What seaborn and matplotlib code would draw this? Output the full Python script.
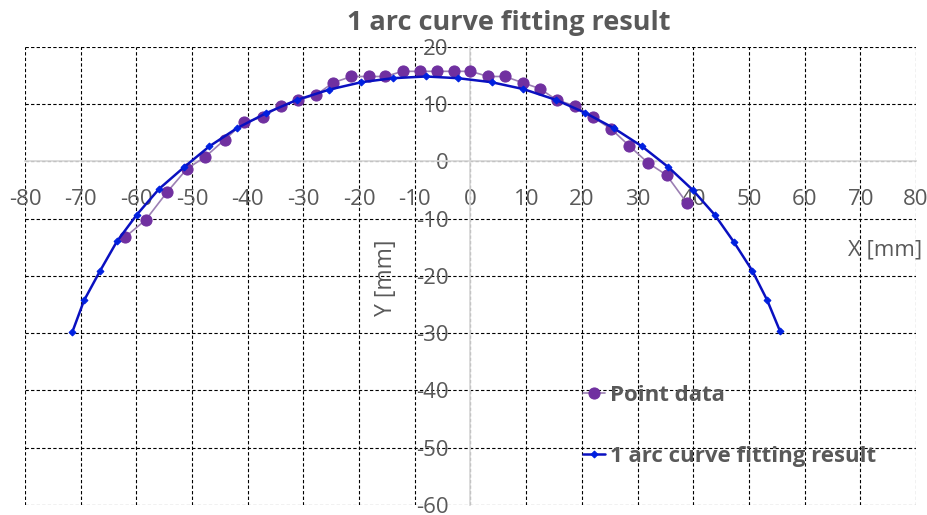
import numpy as np
import pandas as pd
import matplotlib
matplotlib.use("Agg")
import matplotlib.pyplot as plt
import seaborn as sns

# measured points (purple)
pt_x = [-62.1, -58.3, -54.5, -50.9, -47.6, -44.1, -40.7, -37.3, -34.1, -30.9, -27.7,
        -24.7, -21.4, -18.3, -15.3, -12.2, -9.1, -6.0, -3.0, 0.0, 3.2, 6.2, 9.4, 12.4,
        15.5, 18.7, 22.0, 25.3, 28.5, 31.9, 35.2, 38.8]
pt_y = [-13.3, -10.2, -5.4, -1.3, 0.8, 3.8, 6.8, 7.7, 9.7, 10.7, 11.6,
        13.7, 14.8, 14.8, 14.8, 15.7, 15.7, 15.7, 15.7, 15.7, 14.8, 14.8, 13.7, 12.7,
        10.7, 9.7, 7.7, 5.6, 2.7, -0.3, -2.4, -7.2]

# arc fit (blue)
fit_x = [-71.5, -69.4, -66.5, -63.5, -59.9, -55.9, -51.4, -46.9, -41.9, -36.7, -31.2,
         -25.4, -19.6, -14.0, -8.0, -2.2, 3.8, 9.5, 15.4, 20.5, 25.7, 30.8, 35.5, 39.9,
         43.9, 47.3, 50.6, 53.3, 55.6]
fit_y = [-29.8, -24.3, -19.1, -14.0, -9.3, -4.8, -1.0, 2.6, 5.8, 8.4, 10.7,
         12.5, 13.8, 14.5, 14.8, 14.5, 13.8, 12.6, 10.7, 8.5, 5.8, 2.6, -1.0, -5.0,
         -9.4, -14.1, -19.1, -24.3, -29.7]

x_ticks = list(range(-80, 81, 10))
y_ticks = list(range(-60, 21, 10))

sns.set_style("white")
plt.rcParams['font.family'] = ['Open Sans', 'DejaVu Sans']
plt.rcParams['axes.unicode_minus'] = False

gray = '#595959'

fig = plt.figure(figsize=(9.28, 5.15), dpi=100)
ax = fig.add_axes([25 / 928, 1 - 505 / 515, (916 - 25) / 928, (505 - 46.7) / 515])

points = pd.DataFrame({'x': pt_x, 'y': pt_y})
fit = pd.DataFrame({'x': fit_x, 'y': fit_y})

sns.lineplot(data=points, x='x', y='y', sort=False, ax=ax, color='#9B7FB3',
             linewidth=1.2, marker='o', markersize=8, markerfacecolor='#7030A0',
             markeredgecolor='#7030A0', label='Point data', zorder=3)
sns.lineplot(data=fit, x='x', y='y', sort=False, ax=ax, color='#0A10C0',
             linewidth=1.8, marker='D', markersize=3.5, markerfacecolor='#0020E0',
             markeredgecolor='#0020E0', label='1 arc curve fitting result', zorder=4)

ax.set_xlim(-80, 80)
ax.set_ylim(-60, 20)
ax.set_xticks(x_ticks)
ax.set_yticks(y_ticks)

# excel style crossing axes
for s in ['top', 'right']:
    ax.spines[s].set_visible(False)
ax.spines['left'].set_position('zero')
ax.spines['bottom'].set_position('zero')
ax.spines['left'].set_color('#D9D9D9')
ax.spines['bottom'].set_color('#D9D9D9')
ax.spines['left'].set_linewidth(1.3)
ax.spines['bottom'].set_linewidth(1.3)
ax.spines['left'].set_zorder(1)

ax.grid(True, color='black', linestyle=(0, (3, 2)), linewidth=0.8)
ax.set_axisbelow(True)
ax.tick_params(axis='x', length=0, pad=20, labelsize=16, labelcolor=gray)
ax.tick_params(axis='y', length=0, pad=16, labelsize=16, labelcolor=gray)
ax.set_xlabel('')
ax.set_ylabel('')

fig.text(509 / 928, 1 - 23 / 515, '1 arc curve fitting result', ha='center', va='center',
         fontsize=19.5, fontweight='bold', color=gray)
fig.text(922 / 928, 1 - 250 / 515, 'X [mm]', ha='right', va='center', fontsize=16, color=gray)
fig.text(386 / 928, 1 - 278 / 515, 'Y [mm]', ha='center', va='center', rotation=90,
         fontsize=16.5, color=gray)

leg = ax.legend(loc='upper left', bbox_to_anchor=(583 / 928, 1 - 385 / 515),
                bbox_transform=fig.transFigure, frameon=False, borderpad=0,
                borderaxespad=0, handlelength=1.0, handletextpad=0.2, labelspacing=1.78,
                prop={'size': 16, 'weight': 'bold'})
for t in leg.get_texts():
    t.set_color(gray)

plt.savefig('out.png', dpi=100)
